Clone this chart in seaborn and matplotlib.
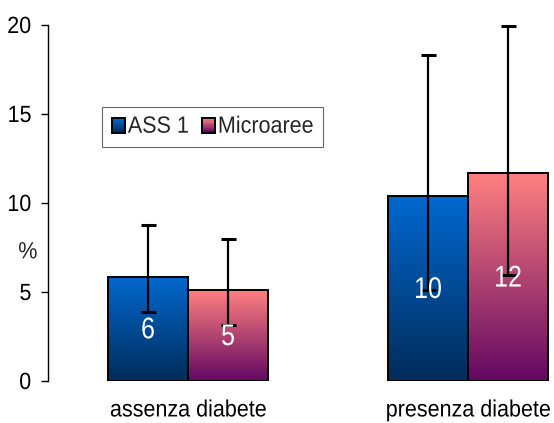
import numpy as np
import pandas as pd
import matplotlib
matplotlib.use("Agg")
import matplotlib.pyplot as plt
import seaborn as sns
from matplotlib.colors import LinearSegmentedColormap
from matplotlib.legend_handler import HandlerBase
from matplotlib.patches import Rectangle
from matplotlib.patheffects import AbstractPathEffect
from matplotlib.transforms import Affine2D

# Data
groups = ["assenza diabete", "presenza diabete"]
series = ["ASS 1", "Microaree"]
ass1_values = [5.86, 10.39]
micro_values = [5.1, 11.68]
# error bar limits (lower, upper)
ass1_err_low = [3.88, 5.1]
ass1_err_high = [8.76, 18.3]
micro_err_low = [3.15, 5.95]
micro_err_high = [7.96, 19.97]
y_ticks = [0, 5, 10, 15, 20]

# gradient colour pairs (top, bottom)
gradients = {
    "ASS 1": ("#0068CF", "#002C5A"),
    "Microaree": ("#FF8080", "#620862"),
}


class StretchY(AbstractPathEffect):
    """Draw text glyphs stretched vertically from the baseline."""

    def __init__(self, sy):
        super().__init__()
        self.sy = sy

    def draw_path(self, renderer, gc, tpath, affine, rgbFace=None):
        renderer.draw_path(gc, tpath, Affine2D().scale(1, self.sy) + affine,
                           rgbFace)


sns.set_theme(style="white")
plt.rcParams["font.family"] = ["Liberation Sans", "DejaVu Sans"]
fs_main, fs_in = 15.5, 18
tall = [StretchY(1.09)]
taller = [StretchY(1.2)]

df = pd.DataFrame({
    "gruppo": groups * 2,
    "serie": [series[0]] * 2 + [series[1]] * 2,
    "valore": ass1_values + micro_values,
})

fig = plt.figure(figsize=(5.54, 4.23), dpi=100)
ax = fig.add_axes([48 / 554, 1 - 381 / 423, (554 - 48) / 554, (381 - 25) / 423])

bar_w = 0.5714
sns.barplot(data=df, x="gruppo", y="valore", hue="serie", order=groups,
            hue_order=series, width=bar_w, errorbar=None, ax=ax,
            palette=["#0068CF", "#FF8080"], legend=False, saturation=1)


def make_cmap(name):
    top, bottom = gradients[name]
    return LinearSegmentedColormap.from_list(name, [bottom, top])


grad = np.linspace(0, 1, 256).reshape(-1, 1)

low = {series[0]: ass1_err_low, series[1]: micro_err_low}
high = {series[0]: ass1_err_high, series[1]: micro_err_high}
vals = {series[0]: ass1_values, series[1]: micro_values}

for container, name in zip(ax.containers, series):
    cmap = make_cmap(name)
    for i, bar in enumerate(container):
        x0, w, h = bar.get_x(), bar.get_width(), bar.get_height()
        bar.set_facecolor("none")
        bar.set_edgecolor("black")
        bar.set_linewidth(1.4)
        bar.set_zorder(3)
        im = ax.imshow(grad, extent=[x0, x0 + w, 0, h], origin="lower",
                       cmap=cmap, aspect="auto", zorder=2)
        im.set_clip_path(bar)
        xc = x0 + w / 2
        v = vals[name][i]
        ax.errorbar(xc, v,
                    yerr=[[v - low[name][i]], [high[name][i] - v]],
                    fmt="none", ecolor="black", elinewidth=1.6,
                    capsize=5.4, capthick=2.2, zorder=4)
        ax.text(xc, h / 2, f"{v:.0f}", ha="center", va="center_baseline",
                color="white", fontsize=fs_in, zorder=5,
                path_effects=taller)

ax.set_xlim(-0.5, 1.307)
ax.set_ylim(0, 20)
ax.set_yticks(y_ticks)
ax.set_yticklabels([str(t) for t in y_ticks])
ax.set_xlabel("")
ax.set_ylabel("%", rotation=0, fontsize=fs_main, ha="center", va="center",
              path_effects=tall)
ax.yaxis.set_label_coords(-0.04, 0.36)

for side in ["top", "right", "bottom"]:
    ax.spines[side].set_visible(False)
ax.spines["left"].set_color("black")
ax.spines["left"].set_linewidth(1.0)
ax.tick_params(axis="y", left=True, length=5, width=1.0, color="black",
               pad=7, labelsize=fs_main, labelcolor="black")
ax.tick_params(axis="x", bottom=False, length=0, pad=14, labelsize=fs_main,
               labelcolor="black")
for lab in ax.get_yticklabels() + ax.get_xticklabels():
    lab.set_path_effects(tall)
ax.grid(False)


class GradientHandler(HandlerBase):
    def __init__(self, name):
        super().__init__()
        self.name = name

    def create_artists(self, legend, orig_handle, xdescent, ydescent,
                       width, height, fontsize, trans):
        top, bottom = gradients[self.name]
        cmap = LinearSegmentedColormap.from_list(self.name, [bottom, top])
        size = height * 0.85
        x0 = -xdescent + (width - size)
        y0 = -ydescent
        h = size * 1.15
        artists = []
        n = 12
        for k in range(n):
            r = Rectangle((x0, y0 + h * k / n), size, h / n + 0.3,
                          facecolor=cmap(k / (n - 1)), edgecolor="none",
                          transform=trans)
            artists.append(r)
        artists.append(Rectangle((x0, y0), size, h, facecolor="none",
                                 edgecolor="black", linewidth=1.4,
                                 transform=trans))
        return artists


handles = [Rectangle((0, 0), 1, 1), Rectangle((0, 1), 1, 1)]
leg = ax.legend(handles, series, loc="upper left",
                bbox_to_anchor=(102 / 554, 1 - 107 / 423),
                bbox_transform=fig.transFigure, ncol=2,
                handler_map={handles[0]: GradientHandler(series[0]),
                             handles[1]: GradientHandler(series[1])},
                fontsize=fs_main, frameon=True, fancybox=False,
                handlelength=0.6, handletextpad=0.15, columnspacing=0.6,
                borderpad=0.45, borderaxespad=0)
for t in leg.get_texts():
    t.set_path_effects(tall)
leg.get_frame().set_edgecolor("#444444")
leg.get_frame().set_linewidth(0.8)

fig.savefig("out.png", dpi=100)
